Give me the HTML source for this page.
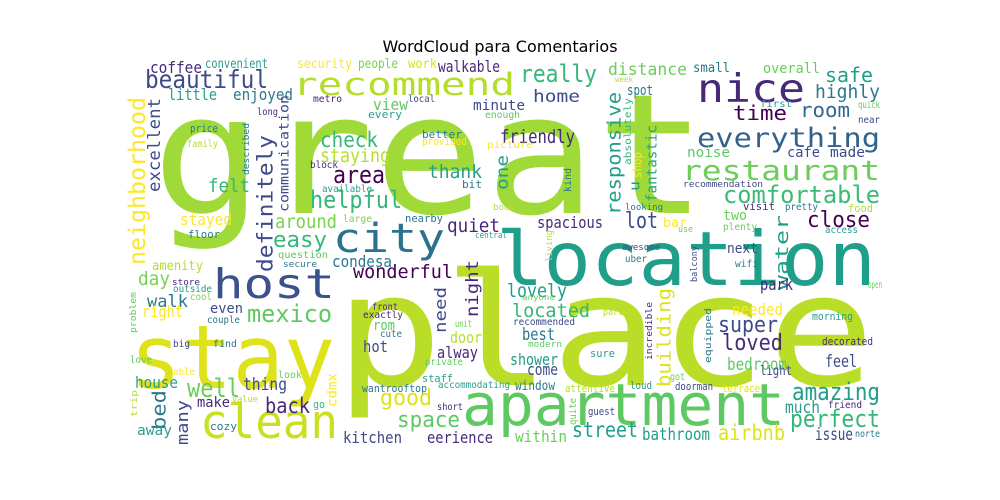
<!DOCTYPE html>
<html><head><meta charset="utf-8"><title>WordCloud</title>
<style>
html,body{margin:0;padding:0;background:#fff;}
#wrap{position:relative;width:1000px;height:500px;overflow:hidden;background:#fff;}
#title{position:absolute;left:0;width:1000px;top:37px;text-align:center;font-family:"DejaVu Sans","Liberation Sans",sans-serif;font-size:16px;color:#000;}
svg{position:absolute;left:0;top:0;}
text{font-family:"DejaVu Sans Mono","Liberation Mono",monospace;}
</style></head>
<body>
<div id="wrap">
<div id="title">WordCloud para Comentarios</div>
<svg id="cloud" width="1000" height="500"></svg>
</div>
<script>
// word, x(left or right-edge for vertical), baseline y (bottom for vertical), font size, length, color, vertical
const words = [
["great",152,213,167,555,"#a0da39",0],
["place",335,385,156,540,"#bade28",0],
["location",496,285,75,380,"#1f9e89",0],
["stay",130,388,88,205,"#dde318",0],
["host",213,298,41,122,"#3b528b",0],
["city",333,252,40,112,"#2c728e",0],
["apartment",462,425,58,323,"#5ec962",0],
["clean",200,438,47,138,"#c8e020",0],
["recommend",293,95,31,222,"#b5de2b",0],
["nice",697,102,39,108,"#482878",0],
["everything",697,147,27,183,"#33638d",0],
["restaurant",682,180,28,198,"#6ccd5a",0],
["comfortable",723,203,24,157,"#3bbb75",0],
["beautiful",145,88,25,123,"#3e4a89",0],
["really",520,82,24,77,"#35b779",0],
["distance",608,75,17,79,"#6ccd5a",0],
["safe",825,82,20,48,"#1f9e89",0],
["highly",815,98,19,65,"#2a788e",0],
["room",800,117,20,50,"#31688e",0],
["time",733,120,20,54,"#440154",0],
["home",533,102,17,47,"#3e4a89",0],
["friendly",500,143,19,75,"#482878",0],
["responsive",623,215,19,123,"#1f9e89",1],
["absolutely",632,165,10,67,"#35b779",1],
["shop",643,178,12,26,"#fde725",1],
["u",641,191,14,10,"#1f9e89",1],
["fantastic",658,202,14,77,"#2a9d8f",1],
["lot",625,228,22,33,"#3e4a89",0],
["bar",663,227,13,24,"#fde725",0],
["spacious",537,228,16,66,"#482878",0],
["close",807,227,22,63,"#440154",0],
["two",723,220,14,24,"#6ccd5a",0],
["next",727,253,14,31,"#3e4a89",0],
["water",790,290,18,75,"#1f9e89",1],
["noise",687,157,14,43,"#5ec962",0],
["cafe",787,157,14,33,"#3e4a89",0],
["made",830,157,14,35,"#3e4a89",0],
["small",693,72,13,37,"#2a788e",0],
["overall",763,73,14,57,"#6ccd5a",0],
["spot",627,95,14,26,"#2a788e",0],
["week",615,82,8,18,"#b5de2b",0],
["first",760,107,10,32,"#2a9d8f",0],
["quick",858,108,10,22,"#6ccd5a",0],
["near",858,123,10,22,"#3e4a89",0],
["recommendation",683,187,9,80,"#3e4a89",0],
["visit",743,210,11,32,"#482878",0],
["pretty",785,210,10,33,"#2a788e",0],
["food",848,212,11,25,"#b5de2b",0],
["looking",625,210,9,38,"#2a788e",0],
["book",493,210,9,22,"#b5de2b",0],
["kind",572,192,10,24,"#2a788e",1],
["plenty",723,230,10,34,"#6ccd5a",0],
["access",825,233,10,33,"#2a9d8f",0],
["use",678,232,9,15,"#6ccd5a",0],
["awesome",622,250,9,38,"#3e4a89",0],
["living",553,262,9,32,"#b5de2b",1],
["uber",625,262,10,22,"#2a788e",0],
["wifi",735,267,10,23,"#2a788e",0],
["balcony",698,282,9,36,"#3e4a89",1],
["park",760,290,16,33,"#482878",0],
["lovely",507,297,19,60,"#1f9e89",0],
["located",512,317,19,78,"#35b779",0],
["building",673,387,19,99,"#dde318",1],
["super",718,332,22,60,"#3e4a89",0],
["loved",722,350,22,61,"#482878",0],
["bedroom",727,370,17,60,"#5ec962",0],
["needed",732,315,16,51,"#fde725",0],
["light",760,375,13,32,"#3e4a89",0],
["feel",825,367,17,32,"#3e4a89",0],
["decorated",822,345,11,51,"#482878",0],
["help",820,308,11,23,"#b5de2b",0],
["morning",812,320,11,41,"#2a9d8f",0],
["open",868,288,10,14,"#6ccd5a",0],
["hour",595,308,10,20,"#b5de2b",0],
["part",603,315,10,20,"#b5de2b",0],
["anyone",522,300,8,33,"#6ccd5a",0],
["recommended",513,325,10,62,"#3e4a89",0],
["best",522,340,17,33,"#2a788e",0],
["modern",528,347,9,34,"#5ec962",0],
["shower",510,365,16,48,"#1f9e89",0],
["come",527,375,16,31,"#3e4a89",0],
["sure",590,357,11,25,"#2a9d8f",0],
["incredible",653,360,9,58,"#482878",1],
["equipped",712,363,9,55,"#2a788e",1],
["got",670,380,10,15,"#6ccd5a",0],
["window",515,390,13,40,"#2a788e",0],
["attentive",565,392,11,50,"#b5de2b",0],
["loud",630,389,11,22,"#2a9d8f",0],
["doorman",675,390,11,38,"#3e4a89",0],
["terrace",722,392,11,38,"#dde318",0],
["amazing",792,400,24,88,"#1f9e89",0],
["much",785,413,17,35,"#2a9d8f",0],
["friend",828,408,10,34,"#482878",0],
["perfect",790,427,24,90,"#35b779",0],
["guest",588,415,11,27,"#3e4a89",0],
["quite",577,425,10,27,"#6ccd5a",1],
["within",515,442,16,52,"#6ccd5a",0],
["street",572,437,21,66,"#1f9e89",0],
["bathroom",642,440,17,68,"#1f9e89",0],
["airbnb",718,440,21,67,"#dde318",0],
["issue",815,440,17,38,"#3e4a89",0],
["norte",855,437,10,25,"#2a788e",0],
["coffee",150,73,16,52,"#482878",0],
["convenient",205,68,13,63,"#2a9d8f",0],
["security",297,68,13,55,"#fde725",0],
["people",358,68,13,40,"#7ad151",0],
["work",408,68,13,29,"#dde318",0],
["walkable",438,72,16,62,"#482878",0],
["little",168,100,16,49,"#2a9d8f",0],
["enjoyed",233,100,16,60,"#2a788e",0],
["neighborhood",148,265,23,168,"#fde725",1],
["excellent",162,192,17,94,"#3e4a89",1],
["metro",313,102,10,29,"#482878",0],
["local",408,102,10,27,"#3e4a89",0],
["view",373,110,16,35,"#5ec962",0],
["long",257,115,10,21,"#482878",0],
["every",368,118,11,34,"#2a9d8f",0],
["communication",290,212,13,117,"#3e4a89",1],
["definitely",275,272,21,137,"#3e4a89",1],
["price",190,132,11,28,"#2a788e",0],
["family",187,147,10,31,"#b5de2b",0],
["described",250,175,9,52,"#2a788e",1],
["check",320,147,21,58,"#35b779",0],
["staying",320,162,19,70,"#b5de2b",0],
["thank",428,178,19,54,"#2a9d8f",0],
["block",310,168,10,28,"#482878",0],
["area",333,183,24,52,"#440154",0],
["felt",208,192,19,42,"#35b779",0],
["better",422,138,11,40,"#2a788e",0],
["provided",422,145,11,45,"#fde725",0],
["available",322,192,10,50,"#2a9d8f",0],
["bit",462,188,11,20,"#2a788e",0],
["minute",473,110,14,52,"#3e4a89",0],
["enough",485,118,10,35,"#5ec962",0],
["picture",487,148,10,46,"#fde725",0],
["helpful",310,208,24,92,"#35b779",0],
["stayed",180,225,16,52,"#fde725",0],
["floor",188,238,11,32,"#2a788e",0],
["around",275,228,19,62,"#7ad151",0],
["easy",273,247,22,54,"#35b779",0],
["large",343,222,10,29,"#7ad151",0],
["nearby",405,222,11,38,"#2a788e",0],
["quiet",447,232,19,53,"#482878",0],
["central",475,238,9,32,"#2a9d8f",0],
["one",510,190,17,35,"#1f9e89",1],
["need",448,333,16,46,"#3e4a89",1],
["night",480,317,17,57,"#482878",1],
["amenity",152,270,13,51,"#b5de2b",0],
["day",138,285,19,32,"#7ad151",0],
["walk",147,307,17,41,"#2a788e",0],
["right",142,317,16,41,"#fde725",0],
["question",278,258,10,50,"#5ec962",0],
["secure",283,267,9,34,"#2a788e",0],
["condesa",332,267,16,60,"#2a788e",0],
["wonderful",353,278,19,100,"#440154",0],
["mexico",247,322,24,85,"#5ec962",0],
["store",172,285,9,28,"#482878",0],
["outside",173,292,10,39,"#2a9d8f",0],
["cool",190,300,10,22,"#7ad151",0],
["even",210,313,14,33,"#3e4a89",0],
["couple",207,323,10,33,"#2a788e",0],
["problem",137,333,9,41,"#5ec962",1],
["big",173,347,10,17,"#3e4a89",0],
["find",213,347,10,24,"#2a788e",0],
["love",130,363,10,22,"#5ec962",0],
["able",173,375,10,22,"#fde725",0],
["look",278,378,10,24,"#6ccd5a",0],
["house",135,388,16,43,"#2a9d8f",0],
["well",187,397,26,53,"#6ccd5a",0],
["thing",243,390,17,44,"#3e4a89",0],
["make",197,407,14,33,"#482878",0],
["value",232,402,9,26,"#b5de2b",0],
["trip",138,417,9,27,"#b5de2b",1],
["bed",168,430,19,40,"#2a788e",1],
["away",137,435,14,35,"#2a9d8f",0],
["many",190,445,16,45,"#3e4a89",1],
["back",265,413,21,45,"#482878",0],
["go",313,408,11,12,"#35b779",0],
["cozy",210,430,11,27,"#2a788e",0],
["cdmx",338,407,13,34,"#fde725",1],
["front",372,310,10,26,"#482878",0],
["exactly",363,318,10,40,"#482878",0],
["cute",380,337,10,22,"#2a788e",0],
["rom",373,330,14,22,"#5ec962",0],
["hot",363,352,16,25,"#3e4a89",0],
["unit",455,327,10,17,"#6ccd5a",0],
["door",450,343,16,32,"#b5de2b",0],
["alway",437,358,16,41,"#482878",0],
["private",425,365,10,38,"#5ec962",0],
["staff",422,382,11,31,"#2a9d8f",0],
["wantrooftop",362,392,11,65,"#2a788e",0],
["accommodating",438,388,10,72,"#2a9d8f",0],
["good",380,405,22,52,"#dde318",0],
["space",397,427,22,63,"#5ec962",0],
["short",437,410,10,26,"#482878",0],
["kitchen",343,443,16,59,"#3e4a89",0],
["eerience",427,443,16,66,"#482878",0]
];
const svg = document.getElementById('cloud');
const NS = 'http://www.w3.org/2000/svg';
for (const w of words) {
  const t = document.createElementNS(NS, 'text');
  
  
  t.textContent = w[0];
  t.setAttribute('font-size', w[3]);
  t.setAttribute('fill', w[5]);
  t.setAttribute('textLength', w[4]);
  t.setAttribute('lengthAdjust', 'spacingAndGlyphs');
  if (w[6]) {
    const bx = w[1] - 0.12 * w[3];
    t.setAttribute('x', 0);
    t.setAttribute('y', 0);
    t.setAttribute('transform', 'translate(' + bx + ',' + w[2] + ') rotate(-90)');
  } else {
    t.setAttribute('x', w[1]);
    t.setAttribute('y', w[2]);
  }
  svg.appendChild(t);
}
</script>
</body></html>
